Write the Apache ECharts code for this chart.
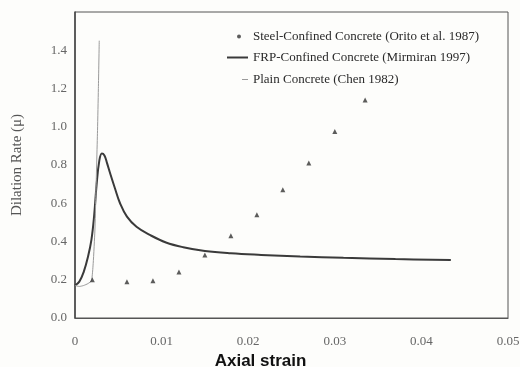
<!DOCTYPE html>
<html>
<head>
<meta charset="utf-8">
<script src="https://cdn.jsdelivr.net/npm/echarts@6/dist/echarts.min.js"></script>
<style>
  html, body { margin: 0; padding: 0; background: #fdfdfb; }
  #chart { width: 520px; height: 367px; }
</style>
</head>
<body>
<div id="chart"></div>
<script>
  // Steel-confined concrete (Orito et al. 1987) - test points
  var steelX = [0.002, 0.006, 0.009, 0.012, 0.015, 0.018, 0.021, 0.024, 0.027, 0.030, 0.0335];
  var steelY = [0.20, 0.19, 0.195, 0.24, 0.33, 0.43, 0.54, 0.67, 0.81, 0.975, 1.14];

  // FRP-confined concrete (Mirmiran 1997)
  var frpX = [0, 0.0005, 0.001, 0.0015, 0.0019, 0.0022, 0.0025, 0.0028, 0.0031, 0.0034, 0.0037,
              0.0041, 0.0046, 0.0052, 0.006, 0.0071, 0.0087, 0.0105, 0.0125, 0.015, 0.018,
              0.0215, 0.026, 0.031, 0.037, 0.0434];
  var frpY = [0.17, 0.19, 0.24, 0.32, 0.41, 0.53, 0.70, 0.82, 0.86, 0.85, 0.81,
              0.75, 0.68, 0.60, 0.53, 0.477, 0.433, 0.395, 0.37, 0.35, 0.338,
              0.33, 0.322, 0.315, 0.308, 0.303];

  // Plain concrete (Chen 1982)
  var plainX = [0, 0.0005, 0.001, 0.0015, 0.0019, 0.0021, 0.0023, 0.0024, 0.0026, 0.0027, 0.0028];
  var plainY = [0.17, 0.165, 0.17, 0.18, 0.195, 0.285, 0.46, 0.63, 0.98, 1.2, 1.45];

  var xTicks = [0, 0.01, 0.02, 0.03, 0.04, 0.05];
  var yTicks = [0, 0.2, 0.4, 0.6, 0.8, 1.0, 1.2, 1.4];

  var names = [
    'Steel-Confined Concrete (Orito et al. 1987)',
    'FRP-Confined Concrete (Mirmiran 1997)',
    'Plain Concrete (Chen 1982)'
  ];

  function pairs(xs, ys) {
    return xs.map(function (x, i) { return [x, ys[i]]; });
  }

  var chart = echarts.init(document.getElementById('chart'), null, { renderer: 'canvas' });

  var serif = '"Liberation Serif", "DejaVu Serif", serif';
  var legendText = { fontFamily: serif, fontSize: 13, color: '#2a2a2a' };

  var option = {
    backgroundColor: '#fdfdfb',
    animation: false,
    grid: {
      left: 75, right: 12, top: 12, bottom: 49,
      containLabel: false,
      outerBoundsMode: 'none',
      show: true, borderColor: '#555', borderWidth: 1
    },
    legend: [
      {
        data: [{ name: names[0], icon: 'circle' }],
        left: 232, top: 25, itemWidth: 4, itemHeight: 4,
        textStyle: Object.assign({}, legendText, { padding: [0, 0, 0, 7] })
      },
      {
        data: [{ name: names[1], icon: 'rect' }],
        left: 222, top: 46, itemWidth: 21, itemHeight: 2,
        textStyle: legendText
      },
      {
        data: [{ name: names[2], icon: 'rect' }],
        left: 237, top: 68, itemWidth: 6, itemHeight: 1,
        textStyle: legendText
      }
    ],
    xAxis: {
      type: 'value',
      min: xTicks[0], max: xTicks[xTicks.length - 1], interval: 0.01,
      name: 'Axial strain',
      nameLocation: 'middle',
      nameGap: 34,
      nameTextStyle: {
        fontFamily: '"Liberation Sans", Arial, sans-serif',
        fontWeight: 'bold', fontSize: 17, color: '#111',
        padding: [0, 62, 0, 0]
      },
      splitLine: { show: false },
      axisTick: { show: false },
      axisLine: { lineStyle: { color: '#555', width: 1.2 } },
      axisLabel: { margin: 17, fontFamily: serif, fontSize: 13, color: '#666' }
    },
    yAxis: {
      type: 'value',
      min: 0, max: 1.6, interval: 0.2,
      name: 'Dilation Rate (\u03bc)',
      nameLocation: 'middle',
      nameGap: 50,
      nameTextStyle: { fontFamily: serif, fontSize: 15, color: '#555' },
      splitLine: { show: false },
      axisTick: { show: false },
      axisLine: { lineStyle: { color: '#444', width: 1.5 } },
      axisLabel: {
        margin: 8, fontFamily: serif, fontSize: 13, color: '#666',
        showMaxLabel: false,
        formatter: function (v) { return v.toFixed(1); }
      }
    },
    series: [
      {
        name: names[0],
        type: 'scatter',
        symbol: 'triangle',
        symbolSize: 5,
        itemStyle: { color: '#333' },
        data: pairs(steelX, steelY),
        z: 5
      },
      {
        name: names[1],
        type: 'line',
        smooth: 0.4,
        showSymbol: false,
        lineStyle: { color: '#3a3a3a', width: 2 },
        itemStyle: { color: '#3a3a3a' },
        data: pairs(frpX, frpY)
      },
      {
        name: names[2],
        type: 'line',
        smooth: 0.2,
        showSymbol: false,
        lineStyle: { color: '#9a9a9a', width: 1 },
        itemStyle: { color: '#9a9a9a' },
        data: pairs(plainX, plainY)
      }
    ]
  };

  chart.setOption(option);
  window.addEventListener('resize', chart.resize);
</script>
</body>
</html>
